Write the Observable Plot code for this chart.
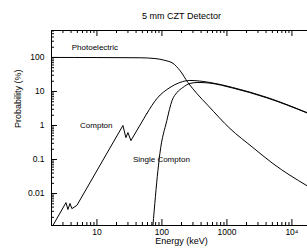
<!DOCTYPE html>
<html>
<head>
<meta charset="utf-8">
<script src="https://cdn.jsdelivr.net/npm/d3@7"></script>
<script src="https://cdn.jsdelivr.net/npm/@observablehq/plot@0.6"></script>
<style>
  html, body { margin: 0; padding: 0; background: white; overflow: hidden; width: 307px; height: 250px; }
  #chart svg { max-width: none !important; display: block; }
</style>
</head>
<body>
<div id="chart"></div>
<script>
// ---- data ----
const chartTitle = "5 mm CZT Detector";
const xLabel = "Energy (keV)";
const yLabel = "Probability (%)";

const photoEnergy = [2, 10, 45.8, 78, 111, 148, 189, 251, 345, 510, 1110, 2510, 5100, 17000];
const photoProb   = [100, 99.5, 98, 93, 82, 67, 41.5, 18.4, 8.7, 3.9, 0.82, 0.225, 0.076, 0.017];

// low-energy jagged part (straight segments with K/L-edge sawtooth)
const comptonLowEnergy = [2.1, 3.34, 3.58, 3.85, 4.12, 4.92, 25.1, 27.9, 30, 33.3, 58.6];
const comptonLowProb   = [0.00115, 0.0054, 0.0034, 0.0051, 0.0036, 0.0045, 1.0, 0.44, 0.62, 0.36, 2.25];
// smooth high-energy part
const comptonHighEnergy = [58.6, 83.7, 133, 189, 269, 547, 1230, 4120, 17000];
const comptonHighProb   = [2.25, 6.2, 13.1, 18.4, 21.1, 18.4, 13.1, 6.7, 2.4];

const singleEnergy = [72.7, 86.8, 93, 119, 143, 170, 210, 269, 358, 547, 1230, 4120, 17000];
const singleProb   = [0.00115, 0.048, 0.15, 1.4, 5.4, 9.3, 13.1, 17.2, 18.4, 17.6, 12.6, 6.5, 2.35];

const xTickValues = [10, 100, 1000, 10000];
const xTickLabels = ["10", "100", "1000", "10\u2074"];
const yTickValues = [100, 10, 1, 0.1, 0.01];
const yTickLabels = ["100", "10", "1", "0.1", "0.01"];

const curveNames = ["Photoelectric", "Compton", "Single Compton"];
const labelEnergy = [4.1, 5.5, 35.8];
const labelProb = [200, 1.0, 0.1];

// ---- build ----
const xDomain = [2, 20000];
const yDomain = [0.00115, 620];
const toRows = (E, P) => E.map((e, i) => ({e, p: P[i]}));

function minorTicks(domain) {
  const out = [];
  for (let k = Math.floor(Math.log10(domain[0])); k <= Math.ceil(Math.log10(domain[1])); k++) {
    for (let m = 2; m <= 9; m++) {
      const v = m * Math.pow(10, k);
      if (v > domain[0] && v < domain[1]) out.push(v);
    }
  }
  return out;
}
function majorTicks(domain) {
  const out = [];
  for (let k = Math.floor(Math.log10(domain[0])); k <= Math.ceil(Math.log10(domain[1])); k++) {
    const v = Math.pow(10, k);
    if (v >= domain[0] && v <= domain[1]) out.push(v);
  }
  return out;
}

const W = 321, H = 250, mL = 51, mR = 10, mT = 30, mB = 25;
const fw = W - mL - mR, fh = H - mT - mB;
const majLen = 6, minLen = 3;

const xMin = minorTicks(xDomain), xMaj = majorTicks(xDomain);
const yMin = minorTicks(yDomain), yMaj = majorTicks(yDomain);

const font = "Liberation Sans, Arial, Helvetica, sans-serif";
const smooth = {x: "e", y: "p", stroke: "black", strokeWidth: 1, curve: "monotone-x"};
const straight = {x: "e", y: "p", stroke: "black", strokeWidth: 1, curve: "linear"};

const plot = Plot.plot({
  width: W, height: H,
  marginLeft: mL, marginRight: mR, marginTop: mT, marginBottom: mB,
  x: {type: "log", domain: xDomain, axis: null},
  y: {type: "log", domain: yDomain, axis: null},
  style: {fontFamily: font, fontSize: "8px", background: "white", color: "black", overflow: "visible"},
  marks: [
    // ticks (inward, IDL style)
    Plot.ruleX(xMin, {x: d => d, insetTop: fh - minLen, stroke: "black"}),
    Plot.ruleX(xMaj, {x: d => d, insetTop: fh - majLen, stroke: "black"}),
    Plot.ruleX(xMin, {x: d => d, insetBottom: fh - minLen, stroke: "black"}),
    Plot.ruleX(xMaj, {x: d => d, insetBottom: fh - majLen, stroke: "black"}),
    Plot.ruleY(yMin, {y: d => d, insetRight: fw - minLen, stroke: "black"}),
    Plot.ruleY(yMaj, {y: d => d, insetRight: fw - majLen, stroke: "black"}),
    Plot.frame({stroke: "black"}),
    // curves
    Plot.line(toRows(photoEnergy, photoProb), smooth),
    Plot.line(toRows(comptonLowEnergy, comptonLowProb), straight),
    Plot.line(toRows(comptonHighEnergy, comptonHighProb), smooth),
    Plot.line(toRows(singleEnergy, singleProb), smooth),
    // curve labels
    Plot.text(curveNames, {x: (d, i) => labelEnergy[i], y: (d, i) => labelProb[i], text: d => d,
      textAnchor: "start", fontSize: 8, fill: "black"}),
    // tick labels
    Plot.text(xTickValues, {x: d => d, text: (d, i) => xTickLabels[i], frameAnchor: "bottom", dy: 9, fontSize: 8.5, fill: "black"}),
    Plot.text(yTickValues, {y: d => d, text: (d, i) => yTickLabels[i], frameAnchor: "left", dx: -7, textAnchor: "end", fontSize: 8.5, fill: "black"}),
    // axis titles and chart title
    Plot.text([xLabel], {frameAnchor: "bottom", dy: 18, fontSize: 9, fill: "black"}),
    Plot.text([yLabel], {frameAnchor: "left", dx: -33, rotate: -90, fontSize: 9, fill: "black"}),
    Plot.text([chartTitle], {frameAnchor: "top", dy: -18, fontSize: 9, fill: "black"})
  ]
});
document.getElementById("chart").appendChild(plot);
</script>
</body>
</html>
